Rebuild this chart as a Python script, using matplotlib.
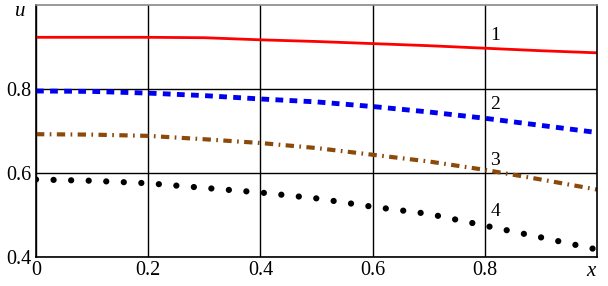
import numpy as np
import matplotlib
matplotlib.use("Agg")
import matplotlib.pyplot as plt

# ── Data ─────────────────────────────────────────────────────────
x = [0.0, 0.1, 0.2, 0.3, 0.4, 0.5, 0.6, 0.7, 0.8, 0.9, 1.0]
u1 = [0.923, 0.923, 0.923, 0.922, 0.917, 0.913, 0.908, 0.903, 0.897, 0.891, 0.886]
u2 = [0.795, 0.794, 0.790, 0.784, 0.776, 0.769, 0.758, 0.745, 0.730, 0.713, 0.696]
u3 = [0.692, 0.691, 0.688, 0.680, 0.671, 0.659, 0.643, 0.627, 0.607, 0.584, 0.560]
u4 = [0.584, 0.581, 0.575, 0.564, 0.553, 0.539, 0.519, 0.502, 0.474, 0.446, 0.417]
curve_labels = ["1", "2", "3", "4"]
label_y = [0.928, 0.762, 0.630, 0.507]

xticks = [0, 0.2, 0.4, 0.6, 0.8]
xticklabels = ["0", "0.2", "0.4", "0.6", "0.8"]
yticks = [0.4, 0.6, 0.8]
yticklabels = ["0.4", "0.6", "0.8"]

plt.rcParams["font.family"] = ["Liberation Serif", "DejaVu Serif"]

fig = plt.figure(figsize=(6.08, 2.86), dpi=100)
ax = fig.add_axes([0.0592, 0.1025, 0.9228, 0.88])

ax.plot(x, u1, color="#ff0000", lw=2.0)
ax.plot(x, u2, color="#0000ee", lw=3.5, linestyle=(0, (1.6, 1.3)))
ax.plot(x, u3, color="#8b4a0a", lw=3.0, linestyle=(0, (2.0, 1.3, 0.4, 1.3)))
ax.plot(x, u4, color="black", lw=4.5, linestyle=(0, (0.01, 2.8)),
        dash_capstyle="round")

for lab, yv in zip(curve_labels, label_y):
    ax.text(0.81, yv, lab, fontsize=14, ha="left", va="center")

ax.set_xlim(0, 1.0)
ax.set_ylim(0.4, 1.0)
ax.set_xticks(xticks)
ax.set_xticklabels(xticklabels, fontsize=14.5)
ax.set_yticks(yticks)
ax.set_yticklabels(yticklabels, fontsize=14.5)
ax.tick_params(length=0, pad=3)
ax.grid(True, color="black", lw=1.0)
ax.set_axisbelow(True)

for s in ["left", "right", "bottom"]:
    ax.spines[s].set_color("black")
    ax.spines[s].set_linewidth(1.2)
ax.spines["top"].set_color("#888888")
ax.spines["top"].set_linewidth(1.2)

fig.text(20 / 608, 1 - 12 / 286, "u", fontsize=15, style="italic",
         ha="center", va="center")
fig.text(591 / 608, 1 - 271 / 286, "x", fontsize=15, style="italic",
         ha="center", va="center")

fig.savefig("out.png", dpi=100)
plt.close()
